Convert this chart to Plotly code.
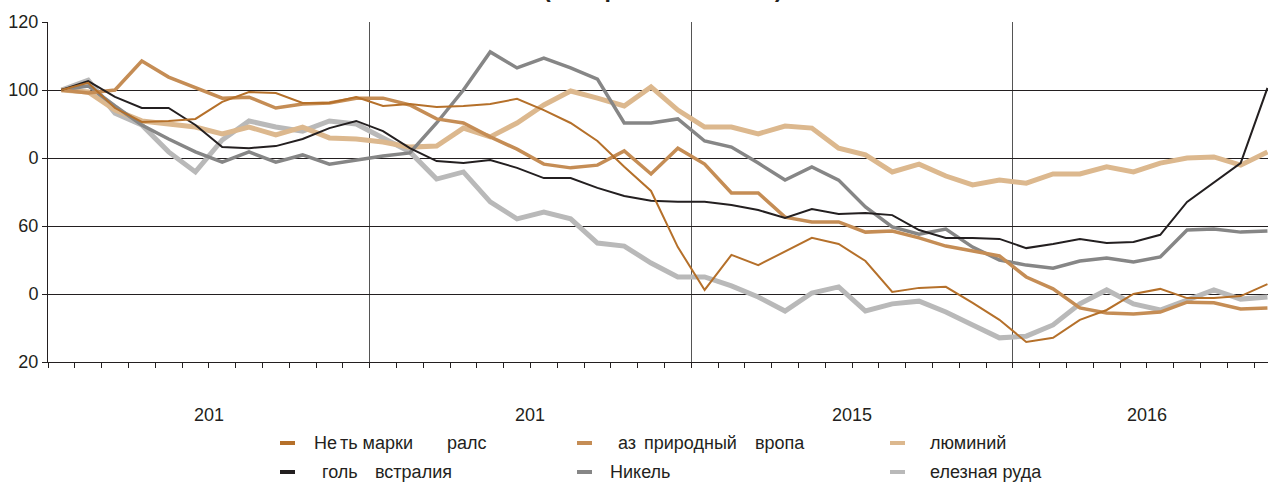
import plotly.graph_objects as go

# ---- data (monthly index, Jan 2013 = 100; Jan 2013 .. Oct 2016) ----
months = list(range(46))
oil = [100, 102.1, 94.7, 90.6, 90.9, 91.5, 96.5, 99.4, 99.1, 96.2, 96.2, 97.9,
       95.3, 95.9, 95.0, 95.3, 95.9, 97.4, 94.1, 90.3, 85.0, 77.4, 70.3, 53.8,
       41.2, 51.5, 48.5, 52.4, 56.5, 54.7, 49.7, 40.6, 41.8, 42.1, 37.4, 32.4,
       25.9, 27.1, 32.4, 35.3, 40.0, 41.5, 38.8, 38.8, 39.4, 42.9]
gas = [100, 99.1, 100, 108.5, 103.8, 100.6, 97.6, 97.9, 94.7, 95.9, 96.2, 97.6,
       97.6, 95.6, 91.5, 90.3, 86.2, 82.6, 78.2, 77.1, 77.9, 82.1, 75.3, 82.9,
       78.2, 69.7, 69.7, 62.6, 61.2, 61.2, 58.2, 58.5, 56.5, 54.1, 52.6, 51.2,
       45.0, 41.5, 35.9, 34.4, 34.1, 34.7, 37.6, 37.4, 35.6, 35.9]
aluminium = [100, 99.4, 94.1, 90.9, 90.0, 89.1, 87.1, 89.1, 86.8, 89.1, 85.9, 85.6,
             84.7, 83.2, 83.5, 88.8, 86.2, 90.3, 95.6, 99.7, 97.6, 95.3, 100.9, 94.1,
             89.1, 89.1, 87.1, 89.4, 88.8, 82.9, 80.9, 75.9, 78.2, 74.7, 72.1, 73.5,
             72.6, 75.3, 75.3, 77.4, 75.9, 78.5, 80.0, 80.3, 77.9, 81.8]
coal = [100, 102.6, 98.0, 94.7, 94.7, 89.7, 83.2, 82.9, 83.5, 85.6, 88.8, 90.9,
        87.9, 82.9, 79.1, 78.5, 79.4, 77.1, 74.1, 74.1, 71.2, 68.8, 67.4, 67.1,
        67.1, 66.2, 64.7, 62.4, 65.0, 63.5, 63.8, 63.2, 58.8, 56.5, 56.5, 56.2,
        53.5, 54.7, 56.2, 55.0, 55.3, 57.4, 67.1, 72.9, 78.5, 100.6]
nickel = [100, 101.2, 95.3, 89.7, 85.6, 81.8, 78.8, 81.8, 78.8, 80.9, 78.2, 79.4,
          80.6, 81.5, 90.3, 100.0, 111.2, 106.5, 109.4, 106.5, 103.2, 90.3, 90.3, 91.5,
          85.0, 83.2, 78.5, 73.5, 77.4, 73.5, 65.6, 59.7, 57.6, 59.1, 53.8, 50.0,
          48.5, 47.6, 49.7, 50.6, 49.4, 50.9, 58.8, 59.1, 58.2, 58.5]
iron_ore = [100, 102.9, 93.2, 89.7, 81.8, 75.9, 85.3, 90.9, 89.1, 87.9, 90.9, 90.0,
            85.9, 81.8, 73.8, 75.9, 67.1, 62.1, 64.1, 62.1, 55.0, 54.1, 49.1, 45.0,
            45.0, 42.4, 39.1, 35.0, 40.3, 42.1, 35.0, 37.1, 37.9, 34.7, 30.9, 27.1,
            27.6, 30.9, 37.1, 41.2, 37.1, 35.3, 38.2, 41.2, 38.5, 39.1]

year_labels = ["201", "201", "2015", "2016"]
year_label_pos = [6, 18, 30, 41]
y_tickvals = [20, 40, 60, 80, 100, 120]
y_ticktext = ["20", "0", "60", "0", "100", "120"]

FONT = "Liberation Sans, Arial, sans-serif"
W, H = 1268, 482
ML, MR, MT, MB = 48, 0, 22, 120
PW, PH = W - ML - MR, H - MT - MB

def px2x(px):
    return (px - ML) / PW

def px2y(py):
    return (H - MB - py) / PH

xc = [m + 0.5 for m in months]

series = [
    ("iron", iron_ore, "#b9b9b9", 5),
    ("alu", aluminium, "#dcb88e", 5),
    ("nickel", nickel, "#868686", 3.5),
    ("gas", gas, "#c58d55", 3.5),
    ("coal", coal, "#231f20", 2),
    ("oil", oil, "#b5702a", 2),
]

fig = go.Figure()
for name, ys, col, w in series:
    fig.add_trace(go.Scatter(x=xc, y=ys, mode="lines", name=name,
                             line=dict(color=col, width=w), showlegend=False,
                             hoverinfo="skip"))

fig.update_layout(
    width=W, height=H,
    margin=dict(l=ML, r=MR, t=MT, b=MB),
    paper_bgcolor="white", plot_bgcolor="white",
    font=dict(family=FONT, size=18, color="#231f20"),
    xaxis=dict(range=[0, 45.52], tickmode="array", tickvals=[0, 12, 24, 36],
               showticklabels=False, ticks="outside", ticklen=5,
               tickcolor="#231f20", showgrid=True, gridcolor="#555555",
               gridwidth=1.3, showline=True, linecolor="#231f20", linewidth=1,
               zeroline=False,
               minor=dict(tickmode="linear", tick0=0, dtick=1, ticks="outside",
                          ticklen=5, tickcolor="#231f20", showgrid=False)),
    yaxis=dict(range=[20, 120], tickmode="array", tickvals=y_tickvals,
               ticktext=y_ticktext, ticks="outside", ticklen=5,
               tickcolor="#231f20", showgrid=True, gridcolor="#231f20",
               gridwidth=1, showline=True, linecolor="#231f20", linewidth=1,
               zeroline=False, tickfont=dict(size=18)),
)

ann = []
for lab, pos in zip(year_labels, year_label_pos):
    ann.append(dict(x=pos, y=px2y(415), xref="x", yref="paper", text=lab,
                    showarrow=False, xanchor="center", yanchor="middle",
                    font=dict(size=18)))

# legend (manual, fragments positioned as in the reference)
legend_rows = [
    (443, [(280, "#b5702a", [(312, "Не"), (338, "ть марки"), (445, "ралс")]),
           (577, "#c58d55", [(616, "аз"), (642, "природный"), (753, "вропа")]),
           (890, "#dcb88e", [(928, "люминий")])]),
    (472, [(280, "#231f20", [(320, "голь"), (373, "встралия")]),
           (577, "#868686", [(608, "Никель")]),
           (890, "#b9b9b9", [(928, "елезная руда")])]),
]
shapes = []
for py, items in legend_rows:
    for mx, col, frags in items:
        shapes.append(dict(type="line", xref="paper", yref="paper",
                           x0=px2x(mx), x1=px2x(mx + 15), y0=px2y(py), y1=px2y(py),
                           line=dict(color=col, width=4)))
        for tx, t in frags:
            ann.append(dict(x=px2x(tx), y=px2y(py), xref="paper", yref="paper",
                            text=t, showarrow=False, xanchor="left",
                            yanchor="middle", font=dict(size=18)))

# title (cut off at the top in the reference)
ann.append(dict(x=px2x(663), y=px2y(4), xref="paper", yref="paper",
                text="<b>(январь 2013 г. = 100)</b>", showarrow=False,
                xanchor="center", yanchor="bottom", font=dict(size=23)))

fig.update_layout(annotations=ann, shapes=shapes)
fig.write_html("out.html", config={"displayModeBar": False},
               post_script="document.body.style.margin='0';"
                           "document.body.style.overflow='hidden';")
